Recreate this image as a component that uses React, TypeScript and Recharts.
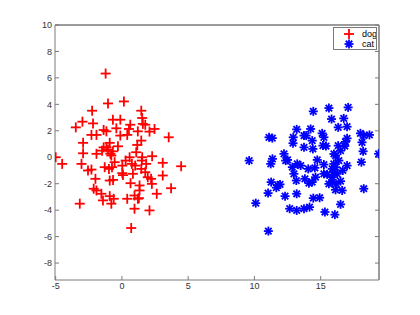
import React from "react";
import {
  ScatterChart,
  Scatter,
  XAxis,
  YAxis,
  Legend,
  ReferenceLine,
} from "recharts";

const dogX = [
  -1.23, -1.05, 0.15, -2.25, 1.46, -2.98, -2.18, -3.48, -0.68, -0.12, 1.53, 1.58, 1.76, 0.63,
  -1.38, -1.17, -0.42, 0.53, 1.2, 2.08, 2.46, 3.53, -2.3, -1.92, -0.12, 0.4, -2.93, -0.92, 1.46,
  1.16, -1.38, -1.17, -0.3, -1.05, -0.68, -1.5, -2.93, -1.92, -0.87, 1.08, -5.0, 0.58, 1.53, 2.28,
  3.08, -4.51, -3.05, -2.56, -2.3, -2.0, -1.3, -0.98, -0.75, -0.55, -0.8, -0.92, -0.67, -2.13,
  -1.92, -1.55, -1.43, -0.92, -0.62, -0.8, -3.18, 0.03, 0.03, 0.08, 0.28, 0.75, 0.83, 0.65, 1.0,
  1.46, 1.5, 1.83, 1.76, 1.95, 2.2, 2.26, 1.33, 1.33, 0.95, 1.2, 0.4, 0.95, 2.08, 0.7, 3.08, 2.63,
  3.71, 4.47, 1.28,
];
const dogY = [
  6.33, 4.07, 4.22, 3.52, 3.52, 2.69, 2.56, 2.26, 2.84, 2.84, 2.97, 2.52, 2.46, 2.46, 2.06, 1.96,
  2.19, 2.14, 1.96, 1.94, 2.14, 1.51, 1.69, 1.69, 1.64, 1.69, 1.09, 1.09, 1.26, 0.93, 0.75, 0.75,
  0.83, 0.58, 0.45, 0.5, 0.3, 0.26, 0.26, 0.38, 0, 0, 0, 0.08, -0.42, -0.5, -0.5, -1.0, -0.93,
  -1.63, -0.75, -0.88, -0.75, -0.37, 0.13, -1.76, -1.71, -2.38, -2.51, -2.76, -3.26, -2.94, -3.14,
  -3.51, -3.51, -0.63, -1.2, -1.35, -0.25, -0.5, -1.25, -1.96, -0.63, -0.88, -0.25, -0.5, -1.13,
  -1.51, -1.63, -2.01, -2.13, -2.51, -2.89, -3.14, -3.14, -3.89, -4.02, -5.35, -1.38, -2.76,
  -2.34, -0.68, -3.09,
];

const catX = [
  14.44, 15.62, 17.07, 15.82, 16.74, 16.32, 16.99, 13.19, 14.24, 15.11, 15.24, 13.74, 13.9, 12.93,
  12.91, 11.1, 11.35, 14.36, 13.74, 14.41, 15.17, 15.4, 16.32, 16.99, 16.87, 16.82, 16.5, 16.12,
  16.0, 18.0, 18.25, 18.68, 18.12, 18.2, 19.37, 12.23, 11.36, 9.6, 12.5, 14.74, 11.23, 12.36,
  12.86, 13.23, 13.49, 12.98, 13.16, 14.06, 14.56, 15.24, 13.81, 14.11, 14.36, 14.61, 15.24, 15.49,
  15.62, 15.87, 15.87, 15.99, 15.87, 16.12, 15.99, 16.37, 16.24, 16.17, 16.12, 16.5, 16.62, 16.67,
  16.99, 18.07, 18.25, 16.5, 16.07, 15.32, 14.92, 14.44, 14.16, 13.74, 13.19, 12.66, 13.19, 12.31,
  11.78, 11.65, 11.93, 11.26, 11.03, 10.1, 11.05,
];
const catY = [
  3.47, 3.72, 3.77, 2.89, 2.94, 2.26, 2.31, 2.11, 2.14, 1.81, 1.51, 1.64, 1.64, 1.51, 1.06, 1.51,
  1.45, 1.26, 0.75, 0.63, 0.88, 0.85, 0.88, 1.43, 1.16, 0.85, 0.5, 0.13, 0.25, 1.81, 1.64, 1.69,
  1.13, 0.45, 0.26, 0.26, -0.12, -0.25, -0.2, -0.2, -0.5, -0.25, -0.75, -0.5, -0.63, -1.25, -1.76,
  -0.88, -0.8, -0.55, -1.63, -1.96, -1.88, -1.51, -1.25, -1.3, -2.01, -1.88, -1.51, -1.13, -0.88,
  -0.75, -0.5, -0.25, -1.25, -2.01, -2.46, -1.81, -2.51, -1.0, -0.63, -0.37, -2.38, -3.56, -4.34,
  -4.14, -3.06, -3.09, -3.77, -3.89, -4.02, -3.89, -2.76, -2.94, -2.13, -2.3, -2.05, -1.88, -2.71,
  -3.47, -5.58,
];

const xTicks = [-5, 0, 5, 10, 15];
const yTicks = [-8, -6, -4, -2, 0, 2, 4, 6, 8, 10];
const xDomain = [-5.05, 19.4];
const yDomain = [-9.28, 10];

const dogData = dogX.map((x, i) => ({ x, y: dogY[i] }));
const catData = catX.map((x, i) => ({ x, y: catY[i] }));

const axisColor = "#7a7a7a";
const tickFont = { fontSize: 9, fill: "#333", fontFamily: "Liberation Sans, Arial, sans-serif" };

const PlusMark = (props: any) => {
  const { cx, cy } = props;
  const r = 5;
  return (
    <g stroke="#ff0000" strokeWidth={1.8}>
      <line x1={cx - r} y1={cy} x2={cx + r} y2={cy} />
      <line x1={cx} y1={cy - r} x2={cx} y2={cy + r} />
    </g>
  );
};

const StarMark = (props: any) => {
  const { cx, cy } = props;
  const r = 4.5;
  const d = r * 0.72;
  return (
    <g stroke="#0000ff" strokeWidth={1.8}>
      <line x1={cx - r} y1={cy} x2={cx + r} y2={cy} />
      <line x1={cx} y1={cy - r} x2={cx} y2={cy + r} />
      <line x1={cx - d} y1={cy - d} x2={cx + d} y2={cy + d} />
      <line x1={cx - d} y1={cy + d} x2={cx + d} y2={cy - d} />
    </g>
  );
};

const LegendBox = () => (
  <div
    style={{
      border: `1px solid ${axisColor}`,
      background: "#fff",
      width: 42,
      height: 21,
      fontFamily: "Liberation Sans, Arial, sans-serif",
      fontSize: 9,
      color: "#000",
      position: "relative",
    }}
  >
    <svg width={42} height={21} style={{ position: "absolute", left: 0, top: 0 }}>
      <PlusMark cx={15} cy={6} />
      <StarMark cx={15} cy={16} />
      <text x={28} y={9} fontSize={9}>dog</text>
      <text x={28} y={19} fontSize={9}>cat</text>
    </svg>
  </div>
);

export default function App() {
  return (
    <div style={{ position: "absolute", left: 0, top: 0, width: 420, height: 315, background: "#fff" }}>
      <ScatterChart
        width={420}
        height={315}
        margin={{ top: 24, right: 40, bottom: 15, left: 25 }}
      >
        <XAxis
          xAxisId={0}
          type="number"
          dataKey="x"
          domain={xDomain}
          ticks={xTicks}
          allowDataOverflow
          height={20}
          stroke={axisColor}
          tickSize={-4}
          tickMargin={7}
          tick={tickFont}
        />
        <XAxis
          xAxisId="top"
          orientation="top"
          type="number"
          domain={xDomain}
          ticks={xTicks}
          allowDataOverflow
          height={1}
          stroke={axisColor}
          tickSize={-4}
          tickFormatter={() => ""}
        />
        <YAxis
          yAxisId={0}
          type="number"
          dataKey="y"
          domain={yDomain}
          ticks={yTicks}
          allowDataOverflow
          width={30}
          stroke={axisColor}
          tickSize={-4}
          tickMargin={7}
          tick={tickFont}
        />
        <YAxis
          yAxisId="right"
          orientation="right"
          type="number"
          domain={yDomain}
          ticks={yTicks}
          allowDataOverflow
          width={1}
          stroke={axisColor}
          tickSize={-4}
          tickFormatter={() => ""}
        />
        <ReferenceLine y={10} stroke={axisColor} ifOverflow="visible" />
        <ReferenceLine x={19.4} stroke={axisColor} ifOverflow="visible" />
        <Legend
          layout="horizontal"
          verticalAlign="middle"
          align="center"
          content={() => <LegendBox />}
          wrapperStyle={{ position: "absolute", top: 27, left: 333, width: 44 }}
        />
        <Scatter name="dog" data={dogData} shape={PlusMark} isAnimationActive={false} />
        <Scatter name="cat" data={catData} shape={StarMark} isAnimationActive={false} />
      </ScatterChart>
    </div>
  );
}
